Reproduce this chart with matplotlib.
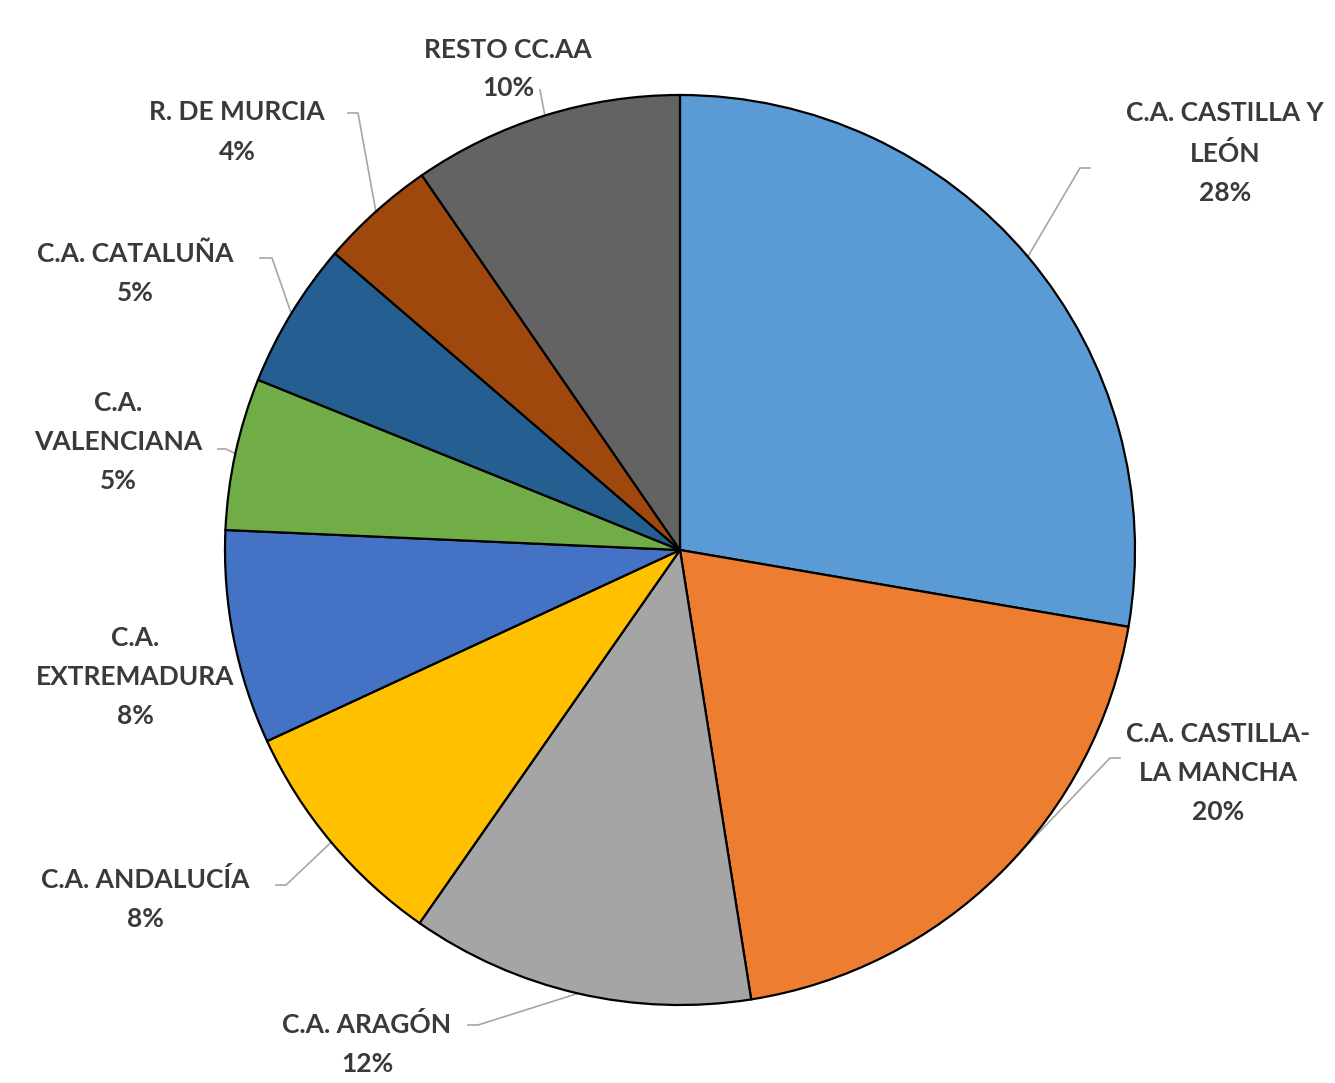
import numpy as np
import matplotlib
matplotlib.use("Agg")
import matplotlib.pyplot as plt

# ================== datos ==================
regiones = ["C.A. CASTILLA Y\nLEÓN", "C.A. CASTILLA-\nLA MANCHA", "C.A. ARAGÓN",
            "C.A. ANDALUCÍA", "C.A.\nEXTREMADURA", "C.A.\nVALENCIANA",
            "C.A. CATALUÑA", "R. DE MURCIA", "RESTO CC.AA"]
porcentajes = [27.7, 19.8, 12.2, 8.4, 7.6, 5.4, 5.2, 4.1, 9.6]
colores = ["#5B9BD5", "#ED7D31", "#A5A5A5", "#FFC000", "#4472C4",
           "#70AD47", "#255E91", "#9E480E", "#636363"]

# posiciones de etiquetas (pixeles, origen arriba-izquierda) y arranque de la guia
pos_etiquetas = [(1225, 153), (1218, 773), (367, 1044), (145, 899), (135, 677),
                 (118, 442), (135, 273), (237, 132), (508, 69)]
inicio_guia = [[(1090, 168), (1080, 168)], [(1120, 758), (1110, 758)],
               [(468, 1025), (478, 1025)], [(276, 885), (286, 885)], None,
               [(218, 449), (226, 449)], [(260, 258), (272, 258)],
               [(348, 113), (358, 113)], [(540, 90)]]

W, H = 1335, 1083
CX, CY, R = 680, 550, 455
TXT = "#3A3A3A"
GUIA = "#A6A6A6"

plt.rcParams['font.family'] = ['Lato', 'DejaVu Sans']

fig = plt.figure(figsize=(W / 100, H / 100), dpi=100)
ax = fig.add_axes([0, 0, 1, 1])

wedges, _ = ax.pie(porcentajes, colors=colores, startangle=90, counterclock=False,
                   center=(CX, H - CY), radius=R,
                   wedgeprops=dict(edgecolor='black', linewidth=1.6))
ax.set_xlim(0, W)
ax.set_ylim(0, H)
ax.set_aspect('equal')
ax.axis('off')

for w, nombre, val, (px, py), guia in zip(wedges, regiones, porcentajes,
                                           pos_etiquetas, inicio_guia):
    ax.text(px, H - py, f"{nombre}\n{round(val)}%", ha='center', va='center',
            fontsize=19, fontweight='bold', color=TXT, linespacing=1.75)
    if guia is None:
        continue
    ang = np.deg2rad((w.theta1 + w.theta2) / 2)
    ex = CX + R * np.cos(ang)
    ey = (H - CY) + R * np.sin(ang)
    xs = [p[0] for p in guia] + [ex]
    ys = [H - p[1] for p in guia] + [ey]
    ax.plot(xs, ys, color=GUIA, lw=1.2, zorder=0.5)

fig.savefig("out.png", dpi=100)
